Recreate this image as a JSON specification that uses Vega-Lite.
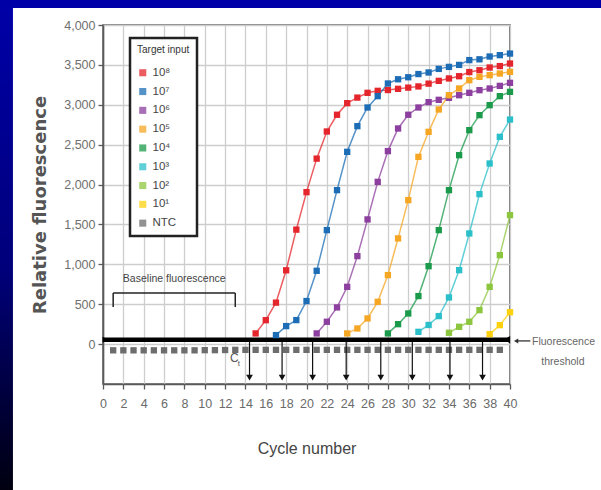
{
  "$schema": "https://vega.github.io/schema/vega-lite/v6.json",
  "width": 407,
  "height": 359,
  "autosize": {"type": "none"},
  "padding": {"left": 103, "top": 25, "right": 91, "bottom": 106},
  "background": "white",
  "config": {
    "view": {"stroke": "#5a5a5a", "strokeWidth": 1.6},
    "font": "Liberation Sans",
    "text": {"font": "Liberation Sans"},
    "legend": {"strokeWidth": 2.5}
  },
  "resolve": {"axis": {"x": "independent"}},
  "datasets": {
    "curves": [
      {"cycle": 15, "value": 134, "input": "10⁸"},
      {"cycle": 16, "value": 300, "input": "10⁸"},
      {"cycle": 17, "value": 520, "input": "10⁸"},
      {"cycle": 18, "value": 925, "input": "10⁸"},
      {"cycle": 19, "value": 1435, "input": "10⁸"},
      {"cycle": 20, "value": 1905, "input": "10⁸"},
      {"cycle": 21, "value": 2325, "input": "10⁸"},
      {"cycle": 22, "value": 2665, "input": "10⁸"},
      {"cycle": 23, "value": 2875, "input": "10⁸"},
      {"cycle": 24, "value": 3020, "input": "10⁸"},
      {"cycle": 25, "value": 3090, "input": "10⁸"},
      {"cycle": 26, "value": 3150, "input": "10⁸"},
      {"cycle": 27, "value": 3175, "input": "10⁸"},
      {"cycle": 28, "value": 3185, "input": "10⁸"},
      {"cycle": 29, "value": 3200, "input": "10⁸"},
      {"cycle": 30, "value": 3215, "input": "10⁸"},
      {"cycle": 31, "value": 3230, "input": "10⁸"},
      {"cycle": 32, "value": 3265, "input": "10⁸"},
      {"cycle": 33, "value": 3300, "input": "10⁸"},
      {"cycle": 34, "value": 3330, "input": "10⁸"},
      {"cycle": 35, "value": 3358, "input": "10⁸"},
      {"cycle": 36, "value": 3410, "input": "10⁸"},
      {"cycle": 37, "value": 3433, "input": "10⁸"},
      {"cycle": 38, "value": 3467, "input": "10⁸"},
      {"cycle": 39, "value": 3485, "input": "10⁸"},
      {"cycle": 40, "value": 3517, "input": "10⁸"},
      {"cycle": 17, "value": 113, "input": "10⁷"},
      {"cycle": 18, "value": 226, "input": "10⁷"},
      {"cycle": 19, "value": 301, "input": "10⁷"},
      {"cycle": 20, "value": 540, "input": "10⁷"},
      {"cycle": 21, "value": 919, "input": "10⁷"},
      {"cycle": 22, "value": 1429, "input": "10⁷"},
      {"cycle": 23, "value": 1930, "input": "10⁷"},
      {"cycle": 24, "value": 2410, "input": "10⁷"},
      {"cycle": 25, "value": 2732, "input": "10⁷"},
      {"cycle": 26, "value": 2966, "input": "10⁷"},
      {"cycle": 27, "value": 3108, "input": "10⁷"},
      {"cycle": 28, "value": 3267, "input": "10⁷"},
      {"cycle": 29, "value": 3320, "input": "10⁷"},
      {"cycle": 30, "value": 3345, "input": "10⁷"},
      {"cycle": 31, "value": 3385, "input": "10⁷"},
      {"cycle": 32, "value": 3405, "input": "10⁷"},
      {"cycle": 33, "value": 3450, "input": "10⁷"},
      {"cycle": 34, "value": 3475, "input": "10⁷"},
      {"cycle": 35, "value": 3500, "input": "10⁷"},
      {"cycle": 36, "value": 3560, "input": "10⁷"},
      {"cycle": 37, "value": 3570, "input": "10⁷"},
      {"cycle": 38, "value": 3605, "input": "10⁷"},
      {"cycle": 39, "value": 3622, "input": "10⁷"},
      {"cycle": 40, "value": 3642, "input": "10⁷"},
      {"cycle": 21, "value": 134, "input": "10⁶"},
      {"cycle": 22, "value": 280, "input": "10⁶"},
      {"cycle": 23, "value": 460, "input": "10⁶"},
      {"cycle": 24, "value": 718, "input": "10⁶"},
      {"cycle": 25, "value": 1103, "input": "10⁶"},
      {"cycle": 26, "value": 1563, "input": "10⁶"},
      {"cycle": 27, "value": 2034, "input": "10⁶"},
      {"cycle": 28, "value": 2419, "input": "10⁶"},
      {"cycle": 29, "value": 2703, "input": "10⁶"},
      {"cycle": 30, "value": 2875, "input": "10⁶"},
      {"cycle": 31, "value": 2966, "input": "10⁶"},
      {"cycle": 32, "value": 3033, "input": "10⁶"},
      {"cycle": 33, "value": 3062, "input": "10⁶"},
      {"cycle": 34, "value": 3087, "input": "10⁶"},
      {"cycle": 35, "value": 3120, "input": "10⁶"},
      {"cycle": 36, "value": 3150, "input": "10⁶"},
      {"cycle": 37, "value": 3183, "input": "10⁶"},
      {"cycle": 38, "value": 3204, "input": "10⁶"},
      {"cycle": 39, "value": 3237, "input": "10⁶"},
      {"cycle": 40, "value": 3275, "input": "10⁶"},
      {"cycle": 24, "value": 134, "input": "10⁵"},
      {"cycle": 25, "value": 196, "input": "10⁵"},
      {"cycle": 26, "value": 322, "input": "10⁵"},
      {"cycle": 27, "value": 530, "input": "10⁵"},
      {"cycle": 28, "value": 865, "input": "10⁵"},
      {"cycle": 29, "value": 1325, "input": "10⁵"},
      {"cycle": 30, "value": 1805, "input": "10⁵"},
      {"cycle": 31, "value": 2347, "input": "10⁵"},
      {"cycle": 32, "value": 2661, "input": "10⁵"},
      {"cycle": 33, "value": 2941, "input": "10⁵"},
      {"cycle": 34, "value": 3120, "input": "10⁵"},
      {"cycle": 35, "value": 3204, "input": "10⁵"},
      {"cycle": 36, "value": 3308, "input": "10⁵"},
      {"cycle": 37, "value": 3350, "input": "10⁵"},
      {"cycle": 38, "value": 3371, "input": "10⁵"},
      {"cycle": 39, "value": 3392, "input": "10⁵"},
      {"cycle": 40, "value": 3413, "input": "10⁵"},
      {"cycle": 28, "value": 134, "input": "10⁴"},
      {"cycle": 29, "value": 250, "input": "10⁴"},
      {"cycle": 30, "value": 384, "input": "10⁴"},
      {"cycle": 31, "value": 602, "input": "10⁴"},
      {"cycle": 32, "value": 977, "input": "10⁴"},
      {"cycle": 33, "value": 1429, "input": "10⁴"},
      {"cycle": 34, "value": 1930, "input": "10⁴"},
      {"cycle": 35, "value": 2368, "input": "10⁴"},
      {"cycle": 36, "value": 2682, "input": "10⁴"},
      {"cycle": 37, "value": 2870, "input": "10⁴"},
      {"cycle": 38, "value": 2995, "input": "10⁴"},
      {"cycle": 39, "value": 3108, "input": "10⁴"},
      {"cycle": 40, "value": 3162, "input": "10⁴"},
      {"cycle": 31, "value": 154, "input": "10³"},
      {"cycle": 32, "value": 240, "input": "10³"},
      {"cycle": 33, "value": 351, "input": "10³"},
      {"cycle": 34, "value": 585, "input": "10³"},
      {"cycle": 35, "value": 927, "input": "10³"},
      {"cycle": 36, "value": 1387, "input": "10³"},
      {"cycle": 37, "value": 1880, "input": "10³"},
      {"cycle": 38, "value": 2264, "input": "10³"},
      {"cycle": 39, "value": 2598, "input": "10³"},
      {"cycle": 40, "value": 2815, "input": "10³"},
      {"cycle": 34, "value": 142, "input": "10²"},
      {"cycle": 35, "value": 217, "input": "10²"},
      {"cycle": 36, "value": 280, "input": "10²"},
      {"cycle": 37, "value": 426, "input": "10²"},
      {"cycle": 38, "value": 718, "input": "10²"},
      {"cycle": 39, "value": 1115, "input": "10²"},
      {"cycle": 40, "value": 1617, "input": "10²"},
      {"cycle": 38, "value": 125, "input": "10¹"},
      {"cycle": 39, "value": 238, "input": "10¹"},
      {"cycle": 40, "value": 400, "input": "10¹"},
      {"cycle": 1, "value": -78, "input": "NTC"},
      {"cycle": 2, "value": -78, "input": "NTC"},
      {"cycle": 3, "value": -78, "input": "NTC"},
      {"cycle": 4, "value": -78, "input": "NTC"},
      {"cycle": 5, "value": -78, "input": "NTC"},
      {"cycle": 6, "value": -78, "input": "NTC"},
      {"cycle": 7, "value": -78, "input": "NTC"},
      {"cycle": 8, "value": -78, "input": "NTC"},
      {"cycle": 9, "value": -78, "input": "NTC"},
      {"cycle": 10, "value": -76, "input": "NTC"},
      {"cycle": 11, "value": -76, "input": "NTC"},
      {"cycle": 12, "value": -74, "input": "NTC"},
      {"cycle": 13, "value": -72, "input": "NTC"},
      {"cycle": 14, "value": -72, "input": "NTC"},
      {"cycle": 15, "value": -72, "input": "NTC"},
      {"cycle": 16, "value": -72, "input": "NTC"},
      {"cycle": 17, "value": -72, "input": "NTC"},
      {"cycle": 18, "value": -72, "input": "NTC"},
      {"cycle": 19, "value": -72, "input": "NTC"},
      {"cycle": 20, "value": -72, "input": "NTC"},
      {"cycle": 21, "value": -72, "input": "NTC"},
      {"cycle": 22, "value": -72, "input": "NTC"},
      {"cycle": 23, "value": -72, "input": "NTC"},
      {"cycle": 24, "value": -72, "input": "NTC"},
      {"cycle": 25, "value": -72, "input": "NTC"},
      {"cycle": 26, "value": -72, "input": "NTC"},
      {"cycle": 27, "value": -72, "input": "NTC"},
      {"cycle": 28, "value": -72, "input": "NTC"},
      {"cycle": 29, "value": -72, "input": "NTC"},
      {"cycle": 30, "value": -72, "input": "NTC"},
      {"cycle": 31, "value": -72, "input": "NTC"},
      {"cycle": 32, "value": -72, "input": "NTC"},
      {"cycle": 33, "value": -72, "input": "NTC"},
      {"cycle": 34, "value": -72, "input": "NTC"},
      {"cycle": 35, "value": -72, "input": "NTC"},
      {"cycle": 36, "value": -72, "input": "NTC"},
      {"cycle": 37, "value": -72, "input": "NTC"},
      {"cycle": 38, "value": -72, "input": "NTC"},
      {"cycle": 39, "value": -72, "input": "NTC"}
    ],
    "ct": [
      {"ct": 14.4}, {"ct": 17.6}, {"ct": 20.6}, {"ct": 23.9},
      {"ct": 27.3}, {"ct": 30.4}, {"ct": 34.1}, {"ct": 37.3}
    ],
    "threshold": [{"start": 0, "end": 40, "level": 55}],
    "bracket": [
      {"x": 1, "x2": 13, "y": 640, "y2": 640},
      {"x": 1, "x2": 1, "y": 640, "y2": 465},
      {"x": 13, "x2": 13, "y": 640, "y2": 465}
    ],
    "one": [{}]
  },
  "layer": [
    {
      "data": {"name": "curves"},
      "transform": [{"filter": "datum.input !== 'NTC'"}],
      "mark": {"type": "line", "strokeWidth": 1.5, "opacity": 0.75},
      "encoding": {
        "x": {
          "field": "cycle", "type": "quantitative",
          "scale": {"domain": [0, 40], "nice": false, "zero": false},
          "axis": {
            "values": [0,2,4,6,8,10,12,14,16,18,20,22,24,26,28,30,32,34,36,38,40],
            "labelOverlap": false,
            "grid": true, "gridColor": "#cdcdcd", "gridWidth": 1.3,
            "domainColor": "#5a5a5a", "domainWidth": 1.6,
            "tickColor": "#5a5a5a", "tickSize": 5, "tickWidth": 1.3,
            "labelFontSize": 12.5, "labelColor": "#6a6a6a", "labelPadding": 8,
            "labelFont": "Liberation Sans", "labelFlush": false,
            "title": "Cycle number", "titleFontSize": 16, "titleColor": "#444",
            "titleFontWeight": "normal", "titlePadding": 31,
            "titleFont": "Liberation Sans"
          }
        },
        "y": {
          "field": "value", "type": "quantitative",
          "scale": {"domain": [-500, 4000], "nice": false, "zero": false},
          "axis": {
            "values": [0,500,1000,1500,2000,2500,3000,3500,4000],
            "format": ",d",
            "grid": true, "gridColor": "#cdcdcd", "gridWidth": 1.3,
            "domainColor": "#5a5a5a", "domainWidth": 1.6,
            "tickColor": "#5a5a5a", "tickSize": 5, "tickWidth": 1.3,
            "labelFontSize": 12.5, "labelColor": "#707070", "labelPadding": 3,
            "labelFont": "Liberation Sans",
            "title": "Relative fluorescence", "titleFontSize": 18, "titleColor": "#555",
            "titleFontWeight": "bold", "titlePadding": 14,
            "titleFont": "DejaVu Sans"
          }
        },
        "color": {
          "field": "input", "type": "nominal",
          "scale": {
            "domain": ["10⁸","10⁷","10⁶","10⁵","10⁴","10³","10²","10¹","NTC"],
            "range": ["#e4262c","#1c6db5","#8c3f9e","#f5a623","#1a9a4a","#2bbfc9","#8cc63e","#fdd10c","#6d6d6d"]
          }
        },
        "detail": {"field": "input"}
      }
    },
    {
      "data": {"name": "threshold"},
      "mark": {"type": "rule", "color": "#000", "strokeWidth": 4.5},
      "encoding": {
        "x": {"field": "start", "type": "quantitative", "axis": null},
        "x2": {"field": "end"},
        "y": {"field": "level", "type": "quantitative"}
      }
    },
    {
      "data": {"name": "curves"},
      "mark": {"type": "square", "size": 40, "opacity": 1, "filled": true},
      "encoding": {
        "x": {"field": "cycle", "type": "quantitative", "axis": null},
        "y": {"field": "value", "type": "quantitative"},
        "color": {
          "field": "input", "type": "nominal",
          "legend": {
            "orient": "none", "legendX": 27, "legendY": 13,
            "title": "Target input", "titleFontSize": 10, "titleColor": "#333",
            "titleFontWeight": "normal", "titlePadding": 12,
            "titleFont": "Liberation Sans",
            "labelFontSize": 11.5, "labelColor": "#444",
            "labelFont": "Liberation Sans",
            "symbolType": "square", "symbolSize": 50, "symbolStrokeWidth": 0,
            "rowPadding": 5.8, "padding": 7,
            "strokeColor": "#222", "fillColor": "white"
          }
        }
      }
    },
    {
      "data": {"name": "ct"},
      "mark": {"type": "rule", "color": "#111", "strokeWidth": 1.2},
      "encoding": {
        "x": {"field": "ct", "type": "quantitative", "axis": null},
        "y": {"datum": 30},
        "y2": {"datum": -410}
      }
    },
    {
      "data": {"name": "ct"},
      "mark": {"type": "point", "shape": "triangle-down", "filled": true, "color": "#111", "size": 45, "opacity": 1},
      "encoding": {
        "x": {"field": "ct", "type": "quantitative", "axis": null},
        "y": {"datum": -420}
      }
    },
    {
      "data": {"name": "bracket"},
      "mark": {"type": "rule", "color": "#222", "strokeWidth": 1.5},
      "encoding": {
        "x": {"field": "x", "type": "quantitative", "axis": null},
        "x2": {"field": "x2"},
        "y": {"field": "y", "type": "quantitative"},
        "y2": {"field": "y2"}
      }
    },
    {
      "data": {"name": "one"},
      "mark": {"type": "text", "text": "Baseline fluorescence", "fontSize": 10.5, "color": "#444", "align": "center", "baseline": "middle"},
      "encoding": {"x": {"datum": 7, "axis": null}, "y": {"datum": 815}}
    },
    {
      "data": {"name": "one"},
      "mark": {"type": "text", "text": "C", "fontSize": 12, "color": "#555", "align": "center", "baseline": "middle"},
      "encoding": {"x": {"datum": 12.9, "axis": null}, "y": {"datum": -175}}
    },
    {
      "data": {"name": "one"},
      "mark": {"type": "text", "text": "t", "fontSize": 8, "color": "#555", "align": "center", "baseline": "middle"},
      "encoding": {"x": {"datum": 13.35, "axis": null}, "y": {"datum": -250}}
    },
    {
      "data": {"name": "one"},
      "mark": {"type": "point", "shape": "triangle-left", "filled": true, "color": "#000", "size": 55, "opacity": 1},
      "encoding": {"x": {"datum": 39.7, "axis": null}, "y": {"datum": 55}}
    },
    {
      "data": {"name": "one"},
      "mark": {"type": "point", "shape": "triangle-right", "filled": true, "color": "#000", "size": 35, "opacity": 1},
      "encoding": {"x": {"datum": 0.2, "axis": null}, "y": {"datum": 55}}
    },
    {
      "data": {"name": "one"},
      "mark": {"type": "rule", "color": "#333", "strokeWidth": 1.3},
      "encoding": {"x": {"datum": 40.6, "axis": null}, "x2": {"datum": 42}, "y": {"datum": 40}}
    },
    {
      "data": {"name": "one"},
      "mark": {"type": "point", "shape": "triangle-left", "filled": true, "color": "#333", "size": 25, "opacity": 1},
      "encoding": {"x": {"datum": 40.6, "axis": null}, "y": {"datum": 40}}
    },
    {
      "data": {"name": "one"},
      "mark": {"type": "text", "text": "Fluorescence", "fontSize": 10.5, "color": "#666", "align": "center", "baseline": "middle"},
      "encoding": {"x": {"datum": 45.26, "axis": null}, "y": {"datum": 30}}
    },
    {
      "data": {"name": "one"},
      "mark": {"type": "text", "text": "threshold", "fontSize": 10.5, "color": "#666", "align": "center", "baseline": "middle"},
      "encoding": {"x": {"datum": 45.2, "axis": null}, "y": {"datum": -225}}
    },
    {
      "data": {"name": "one"},
      "mark": {"type": "rect", "color": "#0000a8"},
      "encoding": {"x": {"datum": -10.5, "axis": null}, "x2": {"datum": 50}, "y": {"datum": 4330}, "y2": {"datum": 4213}}
    },
    {
      "data": {"name": "one"},
      "mark": {"type": "rect", "color": {"gradient": "linear", "x1": 0, "y1": 0, "x2": 0, "y2": 1, "stops": [{"offset": 0, "color": "#0000a8"}, {"offset": 0.55, "color": "#00007a"}, {"offset": 1, "color": "#00000f"}]}},
      "encoding": {"x": {"datum": -10.5, "axis": null}, "x2": {"datum": -8.85}, "y": {"datum": 4330}, "y2": {"datum": -1850}}
    }
  ]
}
